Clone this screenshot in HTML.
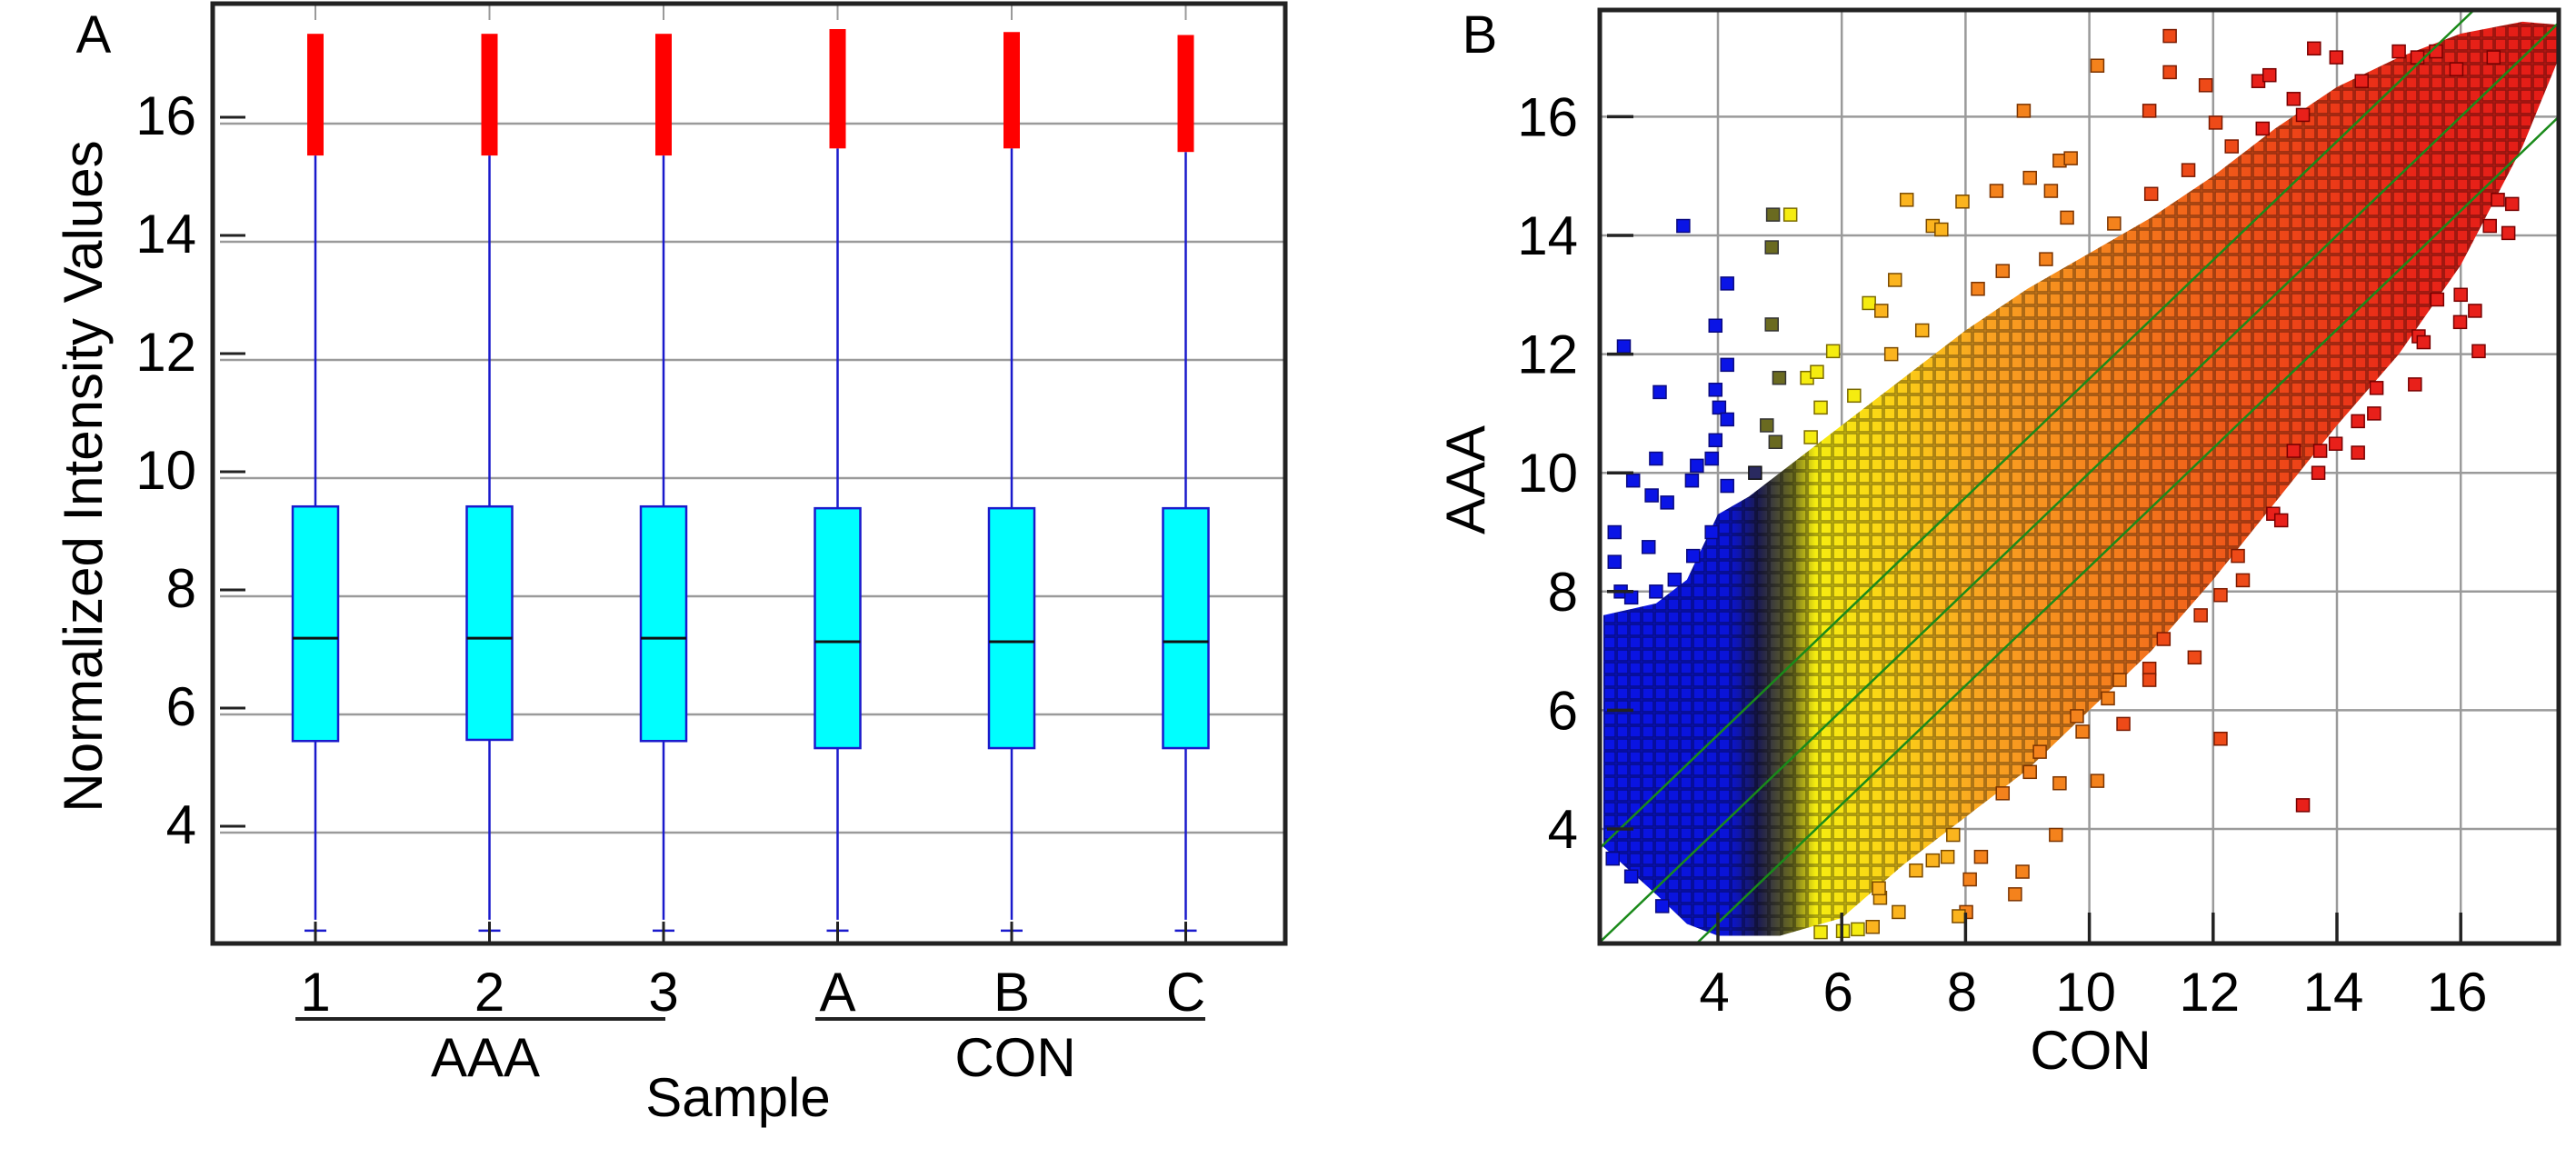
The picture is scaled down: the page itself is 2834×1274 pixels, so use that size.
<!DOCTYPE html>
<html><head><meta charset="utf-8"><style>
html,body{margin:0;padding:0;background:#fff;}
svg{display:block;}
text{font-family:"Liberation Sans",sans-serif;fill:#000;}
</style></head><body>
<svg id="fig" width="2834" height="1274" viewBox="0 0 2834 1274" xmlns="http://www.w3.org/2000/svg">
<defs>
<linearGradient id="bandGrad" gradientUnits="userSpaceOnUse" x1="1760" y1="0" x2="2815" y2="0">
<stop offset="0" stop-color="#0a14e6"/><stop offset="0.135" stop-color="#0a14d8"/>
<stop offset="0.165" stop-color="#1a1a50"/><stop offset="0.2" stop-color="#6a6a20"/>
<stop offset="0.225" stop-color="#f5ec10"/><stop offset="0.3" stop-color="#fbd416"/>
<stop offset="0.4" stop-color="#f9a321"/><stop offset="0.55" stop-color="#f47a1c"/>
<stop offset="0.7" stop-color="#ee4a18"/><stop offset="0.85" stop-color="#e82518"/>
<stop offset="1" stop-color="#e41b17"/></linearGradient>
<pattern id="sqTex" width="14" height="14" patternUnits="userSpaceOnUse">
<rect x="1" y="1" width="12" height="12" fill="none" stroke="#000" stroke-opacity="0.38" stroke-width="1.6"/></pattern>
</defs>
<g id="panelA"></g>
<g id="panelB"></g>
</svg>
<script>
// ---------- Panel A data ----------
const boxCats = ["1","2","3","A","B","C"];
const boxQ1 = [5.55,5.57,5.55,5.43,5.43,5.43];
const boxMed = [7.29,7.29,7.29,7.23,7.23,7.23];
const boxQ3 = [9.52,9.52,9.52,9.49,9.49,9.49];
const whiskLo = [2.34,2.34,2.34,2.34,2.34,2.34];
const whiskHi = [15.46,15.46,15.46,15.58,15.58,15.52];
const outMax = [17.52,17.52,17.52,17.6,17.55,17.5];
const yTicksA = [4,6,8,10,12,14,16];
// ---------- Panel B data ----------
const xTicksB = [4,6,8,10,12,14,16];
const yTicksB = [4,6,8,10,12,14,16];
const foldLines = [0,1.585,-1.585];
const bandX = [2.15,3,3.5,4,4.5,5,6,7,8,9,10,11,12,13,14,15,16,17,17.55];
const bandLo = [3.7,2.9,2.4,2.2,2.2,2.2,2.5,3.4,4.2,5.0,6.0,7.0,8.2,9.5,10.8,12.0,13.5,15.5,16.9];
const bandHi = [7.6,7.8,8.2,9.3,9.6,10.0,10.8,11.6,12.4,13.1,13.7,14.3,15.0,15.8,16.5,17.0,17.4,17.6,17.55];
const ptX = [2.48,3.44,4.15,3.96,4.15,3.06,3.96,4.02,4.15,3.0,3.96,2.63,2.93,3.18,3.66,4.15,3.58,3.9,2.33,2.88,2.33,2.43,
4.89,5.17,4.87,4.87,4.99,4.79,4.93,4.6,
5.44,5.86,5.6,5.66,6.44,6.64,6.86,7.05,7.47,7.61,7.95,8.5,8.94,9.04,9.38,9.52,9.7,9.64,10.13,10.97,11.3,11.3,11.88,12.04,12.73,12.91,13.63,13.99,13.45,15.0,15.3,15.6,15.93,16.53,
16.83,16.77,16.47,16.23,16.29,15.99,15.62,15.32,15.26,14.64,14.34,14.34,13.98,13.73,13.3,12.97,12.48,12.12,12.12,13.45,11.7,10.97,10.97,10.49,10.55,10.13,9.89,9.52,9.46,9.04,8.92,8.8,8.25,8.07,8.01,7.89,6.92,6.5,6.26,6.02,5.66,6.62,7.47,7.71,
5.5,6.2,6.8,7.3,8.2,8.6,9.3,10.4,11.0,11.6,12.3,12.8,13.3,14.4,3.3,3.6,3.9,2.6,3.0,
6.6,7.2,7.8,8.6,9.2,9.8,10.3,11.2,11.8,12.4,13.1,13.7,14.6,15.4,16.0,16.6,2.3,2.6,3.1];
const ptY = [12.13,14.16,13.19,12.48,11.82,11.36,11.4,11.1,10.9,10.24,10.55,9.87,9.62,9.5,10.12,9.78,9.87,10.24,9.0,8.75,8.5,8.0,
14.35,14.35,13.8,12.5,11.6,10.8,10.52,10.0,
11.6,12.05,11.7,11.1,12.86,12.73,13.25,14.6,14.16,14.1,14.57,14.75,16.1,14.97,14.75,15.26,15.3,14.3,16.86,16.1,17.36,16.75,16.53,15.9,16.6,16.7,17.15,17.0,16.03,17.1,17.0,17.1,16.8,17.0,
14.53,14.04,14.16,12.73,12.05,12.54,12.92,12.3,11.49,11.43,10.87,10.34,10.49,10.37,10.37,9.31,8.19,7.94,5.52,4.4,6.89,6.7,6.51,6.51,5.77,4.81,5.64,4.77,3.9,4.96,3.28,2.9,3.53,3.15,2.6,2.53,2.6,2.35,2.31,2.28,2.26,2.84,3.47,3.53,
10.6,11.3,12.0,12.4,13.1,13.4,13.6,14.2,14.7,15.1,15.5,15.8,16.3,16.6,8.2,8.6,9.0,7.9,8.0,
3.0,3.3,3.9,4.6,5.3,5.9,6.2,7.2,7.6,8.6,9.2,10.0,11.0,12.2,13.0,14.6,3.5,3.2,2.7];

const NS="http://www.w3.org/2000/svg";
function mk(parent,tag,attrs,txt){const e=document.createElementNS(NS,tag);for(const k in attrs)e.setAttribute(k,attrs[k]);if(txt!==undefined)e.textContent=txt;parent.appendChild(e);return e;}

// ---------- Panel A ----------
const A=document.getElementById('panelA');
const aL=234,aR=1414,aT=4,aB=1038;
const yA=v=>916-(v-4)*65;
const xA=i=>347+i*191.5;
let e;
yTicksA.forEach(t=>{
  e=mk(A,'line',{x1:242,x2:aR,y1:yA(t),y2:yA(t),stroke:'#9a9a9a','stroke-width':2.5});
  
  
  e=mk(A,'line',{x1:242,x2:270,y1:yA(t)-7,y2:yA(t)-7,stroke:'#222','stroke-width':3});
  
  
  e=mk(A,'text',{x:216,y:yA(t)+12,'font-size':60,'text-anchor':'end'},String(t));
  
  
});
boxCats.forEach((c,i)=>{
  const cx=xA(i);
  e=mk(A,'line',{x1:cx,x2:cx,y1:aT,y2:aT+18,stroke:'#9a9a9a','stroke-width':2});
  
  
  e=mk(A,'line',{x1:cx,x2:cx,y1:yA(whiskLo[i])-12,y2:yA(whiskHi[i]),stroke:'#1a1acc','stroke-width':2.5});
  
  
  e=mk(A,'line',{x1:cx-12,x2:cx+12,y1:yA(whiskLo[i]),y2:yA(whiskLo[i]),stroke:'#1a1acc','stroke-width':2.5});
  
  
  e=mk(A,'line',{x1:cx,x2:cx,y1:yA(whiskLo[i])-10,y2:aB,stroke:'#222','stroke-width':3});
  
  
  e=mk(A,'rect',{x:cx-9,y:yA(outMax[i]),width:18,height:yA(whiskHi[i])-yA(outMax[i]),fill:'#ff0000'});
  
  
  e=mk(A,'rect',{x:cx-25,y:yA(boxQ3[i]),width:50,height:yA(boxQ1[i])-yA(boxQ3[i]),fill:'#00ffff',stroke:'#1a1acc','stroke-width':2.5});
  
  
  e=mk(A,'line',{x1:cx-25,x2:cx+25,y1:yA(boxMed[i]),y2:yA(boxMed[i]),stroke:'#111','stroke-width':3});
  
  
  e=mk(A,'text',{x:cx,y:1112,'font-size':60,'text-anchor':'middle'},c);
  
  
});
e=mk(A,'rect',{x:aL,y:aT,width:aR-aL,height:aB-aT,fill:'none',stroke:'#222','stroke-width':5});


e=mk(A,'line',{x1:325,x2:732,y1:1121,y2:1121,stroke:'#222','stroke-width':4});


e=mk(A,'line',{x1:897,x2:1326,y1:1121,y2:1121,stroke:'#222','stroke-width':4});


e=mk(A,'text',{x:534,y:1184,'font-size':60,'text-anchor':'middle'},'AAA');


e=mk(A,'text',{x:1117,y:1184,'font-size':60,'text-anchor':'middle'},'CON');


e=mk(A,'text',{x:812,y:1228,'font-size':60,'text-anchor':'middle'},'Sample');


e=mk(A,'text',{x:0,y:0,'font-size':60,'text-anchor':'middle',transform:'translate(112,524) rotate(-90)'},'Normalized Intensity Values');


e=mk(A,'text',{x:103,y:58,'font-size':58,'text-anchor':'middle'},'A');



// ---------- Panel B ----------
const B=document.getElementById('panelB');
const bL=1760,bR=2815,bT=11,bB=1038;
const xB=v=>1890+(v-4)*68.1;
const yB=v=>912-(v-4)*65.3;
xTicksB.forEach(t=>{
  e=mk(B,'line',{x1:xB(t),x2:xB(t),y1:bT,y2:bB,stroke:'#9a9a9a','stroke-width':2.5});
  
  
});
yTicksB.forEach(t=>{
  e=mk(B,'line',{x1:bL,x2:bR,y1:yB(t),y2:yB(t),stroke:'#9a9a9a','stroke-width':2.5});
  
  
});
let pts=[];
bandX.forEach((x,i)=>pts.push(xB(x)+','+yB(bandHi[i])));
for(let i=bandX.length-1;i>=0;i--)pts.push(xB(bandX[i])+','+yB(bandLo[i]));
e=mk(B,'polygon',{points:pts.join(' '),fill:'url(#bandGrad)'});


e=mk(B,'polygon',{points:pts.join(' '),fill:'url(#sqTex)'});


function colB(x){
  if(x<4.4)return['#0a14e6','#0a0a80'];
  if(x<4.75)return['#2a2a60','#111'];
  if(x<5.05)return['#6a6a20','#333'];
  if(x<6.5)return['#f5ec10','#7a6a00'];
  if(x<8)return['#fbb41e','#7a4a00'];
  if(x<10.5)return['#f4821c','#7a3300'];
  if(x<12.5)return['#ee4a18','#7a1a00'];
  return['#e8201a','#700'];
}
ptX.forEach((x,i)=>{
  const c=colB(x);
  e=mk(B,'rect',{x:xB(x)-7,y:yB(ptY[i])-7,width:14,height:14,fill:c[0],stroke:c[1],'stroke-width':1.5});
  
  
});
const cp=mk(B,'clipPath',{id:'clipB'});
mk(cp,'rect',{x:bL,y:bT,width:bR-bL,height:bB-bT});
foldLines.forEach(d=>{
  const x0=2.0,x1=18;
  e=mk(B,'line',{x1:xB(x0),y1:yB(x0+d),x2:xB(x1),y2:yB(x1+d),stroke:'#1a8a1a','stroke-width':2.5,'clip-path':'url(#clipB)'});
  
  
});
yTicksB.forEach(t=>{
  e=mk(B,'line',{x1:bL+8,x2:bL+37,y1:yB(t),y2:yB(t),stroke:'#222','stroke-width':3.5});
  
  
  e=mk(B,'text',{x:1736,y:yB(t)+21,'font-size':60,'text-anchor':'end'},String(t));
  
  
});
xTicksB.forEach(t=>{
  e=mk(B,'line',{x1:xB(t),x2:xB(t),y1:1004,y2:bB,stroke:'#222','stroke-width':3.5});
  
  
  e=mk(B,'text',{x:xB(t)-4,y:1112,'font-size':60,'text-anchor':'middle'},String(t));
  
  
});
e=mk(B,'rect',{x:bL,y:bT,width:bR-bL,height:bB-bT,fill:'none',stroke:'#222','stroke-width':5});


e=mk(B,'text',{x:2300,y:1176,'font-size':60,'text-anchor':'middle'},'CON');


e=mk(B,'text',{x:0,y:0,'font-size':60,'text-anchor':'middle',transform:'translate(1633,528) rotate(-90)'},'AAA');


e=mk(B,'text',{x:1628,y:58,'font-size':58,'text-anchor':'middle'},'B');


</script>
</body></html>
